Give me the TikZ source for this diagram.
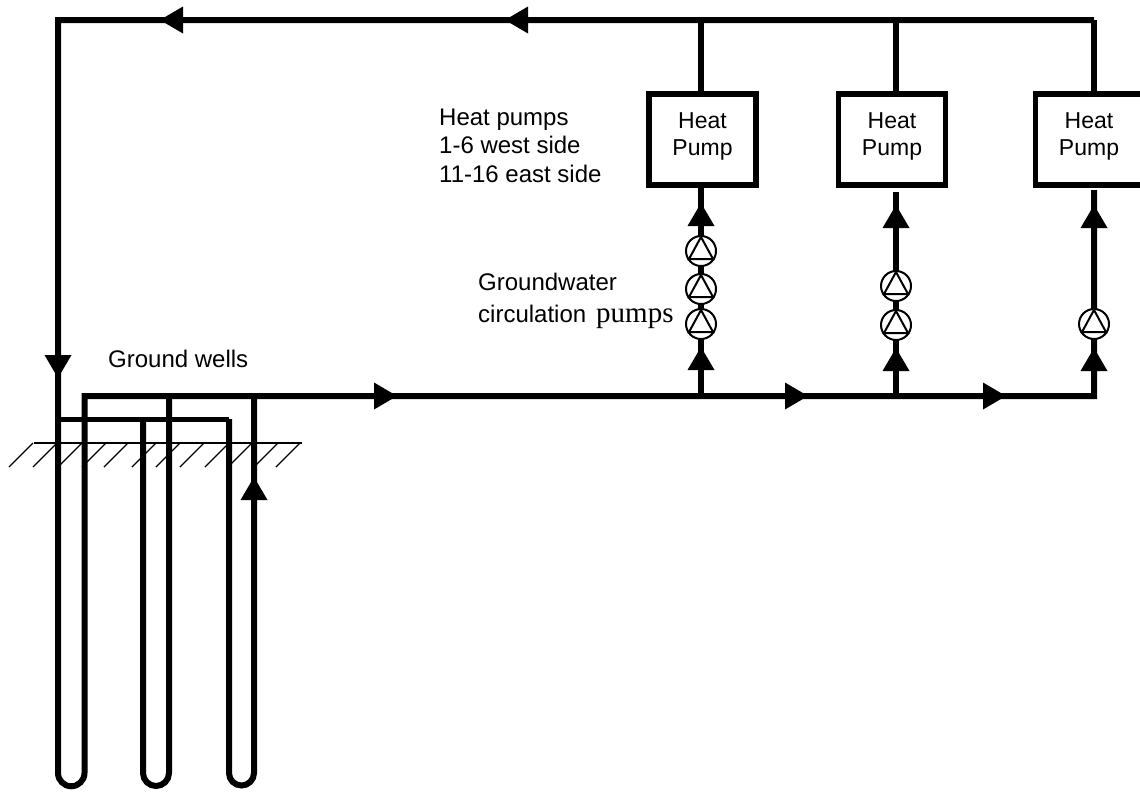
\documentclass[tikz,border=0pt]{standalone}
\usepackage{fontspec}
\setmainfont{Liberation Sans}
\newfontfamily\serifpart{Liberation Serif}
\newcommand{\flowhead}[3]{\fill[rotate around={#3:(#1,#2)}] (#1,#2) ++(-23,-13.5) -- ++(23,13.5) -- ++(-23,13.5) -- cycle;}
\tikzset{
  x=1pt,y=-1pt,
  pipe/.style={line width=6pt,line join=miter},
  thinpipe/.style={line width=5pt},
  hp/.style={draw,line width=5.5pt,fill=white,minimum width=107pt,minimum height=91pt,inner sep=0pt},
  hptext/.style={inner sep=0pt,align=center,font=\fontsize{23}{27}\selectfont},
  pumpc/.style={circle,draw,line width=2pt,fill=white,minimum size=30pt,inner sep=0pt},
  lbl/.style={anchor=base west,inner sep=0pt,font=\fontsize{24}{30}\selectfont},
  hatch/.style={line width=1.3pt}
}
\newcommand{\pumpat}[3]{\node[pumpc] (#1) at (#2,#3) {};
  \draw[line width=2pt,line join=miter] (#2,#3-14) -- (#2+12,#3+8) -- (#2-12,#3+8) -- cycle;}
\begin{document}
\begin{tikzpicture}
\useasboundingbox (0,0) rectangle (1140,793);
\fill[white] (0,0) rectangle (1140,793);
\clip (0,0) rectangle (1140,793);
% coordinates
\coordinate (tl) at (58,20);
\coordinate (tr) at (1094,20);
\coordinate (sr) at (1094,396);
\coordinate (s0) at (84.5,396);
\coordinate (s1) at (701,396);
\coordinate (s2) at (896,396);
\coordinate (w1) at (169,396);
\coordinate (w2) at (254,396);
\coordinate (r0) at (58,419);
\coordinate (r1) at (229,419);
\coordinate (r2) at (143,419);
\coordinate (t1) at (701,20);
\coordinate (t2) at (896,20);
% ground
\draw[hatch] (34,443) -- (302,443);
\foreach \xx in {33,57,82,106,128,156,180,204,229,252,278,300}
  \draw[hatch] (\xx,443) -- (\xx-24,467);
% wells
\draw[pipe] (tr) -- (tl) -- (58,773) arc[start angle=180,end angle=0,radius=13.25] -- (s0) -- (sr) -- (1094,190);
\draw[pipe] (w1) -- (169,773) arc[start angle=0,end angle=180,radius=13] -- (r2);
\draw[thinpipe] (r0) -- (r1);
\draw[pipe] (r1) -- (229,773) arc[start angle=180,end angle=0,radius=12.5] -- (w2);
% boxes
\node[hp] (hp1) at (702.5,139.5) {};
\node[hp] (hp2) at (892,139.5) {};
\node[hp] (hp3) at (1089,139.5) {};
\node[hptext] (ht1) at (702.5,136) {Heat\\Pump};
\node[hptext] (ht2) at (892,136) {Heat\\Pump};
\node[hptext] (ht3) at (1089,136) {Heat\\Pump};
\draw[pipe] (t1) -- (hp1.north -| t1);
\draw[pipe] (t2) -- (hp2.north -| t2);
\draw[pipe] (tr) -- (hp3.north -| tr);
\draw[pipe] (s1) -- (hp1.south -| s1);
\draw[pipe] (s2) -- (896,192);
% arrowheads
\flowhead{160}{20}{180}
\flowhead{505}{20}{180}
\flowhead{58}{378}{-90}
\flowhead{254}{477}{90}
\flowhead{397}{396}{0}
\flowhead{808}{396}{0}
\flowhead{1006}{396}{0}
\flowhead{701}{203}{90}
\flowhead{701}{347}{90}
\flowhead{896}{205}{90}
\flowhead{896}{348}{90}
\flowhead{1094}{205}{90}
\flowhead{1094}{348}{90}
% pumps
\pumpat{p1}{701}{251}
\pumpat{p2}{701}{289}
\pumpat{p3}{701}{324}
\pumpat{p4}{896}{286}
\pumpat{p5}{896}{325}
\pumpat{p6}{1094}{324}
% labels
\node[lbl] (l1) at (439,125) {Heat pumps};
\node[lbl] (l2) at (439,153) {1-6 west side};
\node[lbl] (l3) at (439,182) {11-16 east side};
\node[lbl] (l4) at (478,290) {Groundwater};
\node[lbl] (l5) at (478,322) {circulation};
\node[lbl,font=\serifpart\fontsize{29}{30}\selectfont] (l7) at (596,322) {pumps};
\node[lbl] (l6) at (108,367) {Ground wells};
\end{tikzpicture}
\end{document}
